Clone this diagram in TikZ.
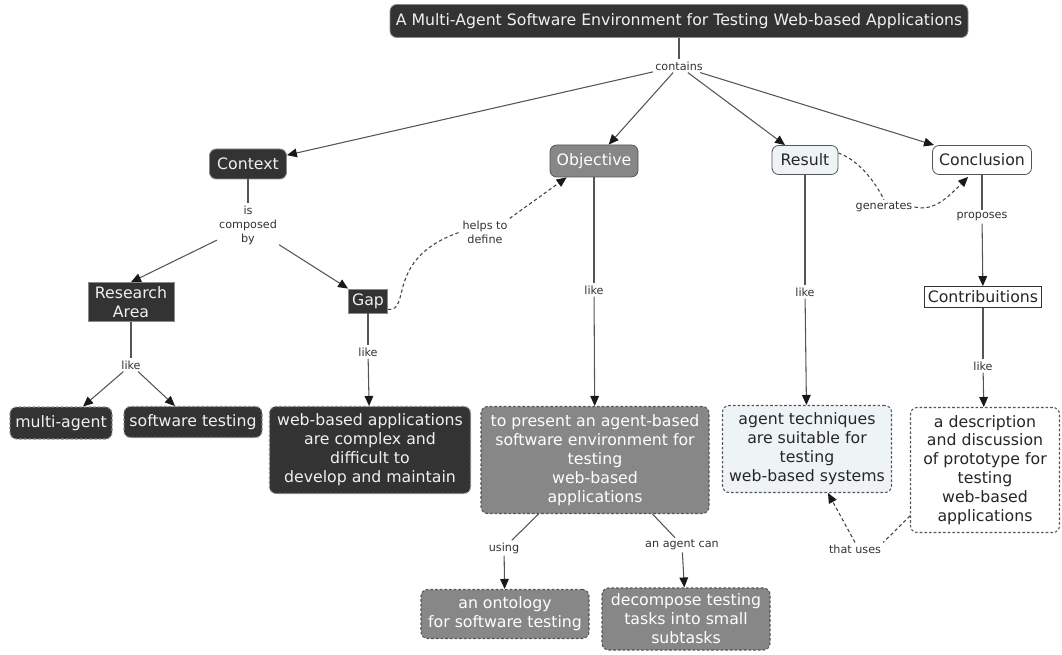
\documentclass[tikz,border=0pt]{standalone}
\usepackage{fontspec}
\setmainfont{DejaVu Sans}
\usetikzlibrary{arrows.meta,calc}
\definecolor{darkfill}{HTML}{333333}
\definecolor{greyfill}{HTML}{878787}
\definecolor{palefill}{HTML}{EEF4F6}
\definecolor{rim}{HTML}{8A8A8A}
\definecolor{linkgrey}{HTML}{555555}
\definecolor{labeltext}{HTML}{333333}
\begin{document}
\begin{tikzpicture}[x=0.75pt,y=-0.75pt,
  every node/.style={font=\fontsize{11.8}{14.2}\selectfont, align=center, inner sep=0pt},
  darkbox/.style={fill=darkfill, draw=rim, line width=0.6pt, text=white!94!black},
  greybox/.style={fill=greyfill, draw=linkgrey, line width=0.6pt, text=white},
  palebox/.style={fill=palefill, draw=linkgrey, line width=0.6pt, text=black!85},
  plainbox/.style={fill=white, draw=linkgrey, line width=0.6pt, text=black!85},
  round/.style={rounded corners=5pt},
  dotted rim/.style={dash pattern=on 2pt off 1.5pt, line width=0.8pt},
  lbl/.style={font=\fontsize{8.4}{10.5}\selectfont, text=labeltext, fill=white, inner sep=1.5pt},
  link/.style={draw=linkgrey, line width=0.8pt},
  tip/.style={-{Triangle[length=7.5pt,width=6.5pt,color=black!90]}},
  arr/.style={link, tip},
  dlink/.style={draw=black!75, line width=0.8pt, dash pattern=on 2.5pt off 2pt},
  darr/.style={dlink, tip}
]
\useasboundingbox (0,0) rectangle (1062,655);

% top concept
\node[darkbox, round, minimum width=433.5pt, minimum height=24.75pt] (title) at (679,21)
  {A Multi-Agent Software Environment for Testing Web-based Applications};
\node[lbl] (contains) at (679,66) {contains};

% first level
\node[darkbox, round, minimum width=57.75pt, minimum height=22.5pt] (context) at (248,164) {Context};
\node[greybox, round, minimum width=66pt, minimum height=24pt] (objective) at (594,161) {Objective};
\node[palebox, round, minimum width=49.5pt, minimum height=21.75pt] (result) at (805,160) {Result};
\node[plainbox, round, minimum width=74.25pt, minimum height=21.75pt] (conclusion) at (982,160) {Conclusion};

% second level
\node[lbl] (composed) at (248,225) {is\\composed\\by};
\node[darkbox, minimum width=64.5pt, minimum height=29.25pt] (research) at (131,302) {Research\\Area};
\node[darkbox, minimum width=29.25pt, minimum height=18pt] (gap) at (368,301) {Gap};
\node[lbl] (helps) at (485,232) {helps to\\define};
\node[lbl] (likeobj) at (594,290) {like};
\node[lbl] (likeres) at (805,292) {like};
\node[lbl] (generates) at (884,207) {generates};
\node[lbl] (proposes) at (982,217) {proposes};
\node[plainbox, draw=black!80, minimum width=87.75pt, minimum height=15.75pt] (contrib) at (983,297) {Contribuitions};
\node[lbl] (likera) at (131,365) {like};
\node[lbl] (likegap) at (368,352) {like};
\node[lbl] (likecon) at (983,366) {like};

% detail concepts
\node[darkbox, round, dotted rim, minimum width=76.5pt, minimum height=24pt] (multi) at (61,423) {multi-agent};
\node[darkbox, round, dotted rim, minimum width=103.5pt, minimum height=23.25pt] (swtest) at (193,422) {software testing};
\node[darkbox, round, dotted rim, minimum width=150.75pt, minimum height=65.25pt] (webapps) at (370,450)
  {web-based applications\\are complex and\\difficult to\\develop and maintain};
\node[greybox, round, dotted rim, minimum width=171pt, minimum height=80.25pt] (present) at (595,460)
  {to present an agent-based\\software environment for\\testing\\web-based\\applications};
\node[palebox, round, dotted rim, minimum width=126.75pt, minimum height=65.25pt] (agenttech) at (807,449)
  {agent techniques\\are suitable for\\testing\\web-based systems};
\node[plainbox, round, dotted rim, minimum width=111.75pt, minimum height=93.75pt] (descr) at (985,470)
  {a description\\and discussion\\of prototype for\\testing\\web-based\\applications};
\node[lbl] (using) at (504,548) {using};
\node[lbl] (agentcan) at (682,545) {an agent can};
\node[lbl] (thatuses) at (855,549) {that uses};
\node[greybox, round, dotted rim, minimum width=126pt, minimum height=36.75pt] (ontology) at (505,614)
  {an ontology\\for software testing};
\node[greybox, round, dotted rim, minimum width=126pt, minimum height=46.5pt] (decompose) at (686,619)
  {decompose testing\\tasks into small\\subtasks};

% links from the title
\draw[link] (title) -- (contains);
\draw[arr] (contains) -- (context);
\draw[arr] (contains) -- (objective);
\draw[arr] (contains) -- (result);
\draw[arr] (contains) -- (conclusion);

% context branch
\draw[link] (context) -- (composed);
\draw[arr] (composed) -- (research.north);
\draw[arr] (composed) -- (gap.north west);
\draw[link] (research) -- (likera);
\draw[arr] (likera) -- ($(multi.north)+(22,0)$);
\draw[arr] (likera) -- ($(swtest.north)+(-18,0)$);
\draw[link] (gap) -- (likegap);
\draw[arr] (likegap) -- (webapps);

% gap helps to define the objective
\draw[dlink] ($(gap.south east)+(0,-4)$) .. controls (412,312) and (384,258) .. (helps.west);
\draw[darr] (helps.north east) -- ($(objective.south west)+(17,0)$);

% objective branch
\draw[link] (objective) -- (likeobj);
\draw[arr] (likeobj) -- (present);
\draw[link] ($(present.south west)+(58,0)$) -- (using);
\draw[arr] (using) -- (ontology);
\draw[link] ($(present.south west)+(172,0)$) -- (agentcan);
\draw[arr] (agentcan) -- (decompose);

% result branch
\draw[link] (result) -- (likeres);
\draw[arr] (likeres) -- (agenttech);
\draw[dlink] ($(result.east)+(0,-7)$) .. controls (858,160) and (874,180) .. (generates.north);
\draw[darr] (generates.east) .. controls (935,212) and (950,195) .. ($(conclusion.south west)+(36,2)$);

% conclusion branch
\draw[link] (conclusion) -- (proposes);
\draw[arr] (proposes) -- (contrib);
\draw[link] (contrib) -- (likecon);
\draw[arr] (likecon) -- (descr);
\draw[dlink] ($(descr.west)+(0,46)$) -- (thatuses.north east);
\draw[darr] (thatuses.north) -- ($(agenttech.south)+(21,0)$);
\end{tikzpicture}
\end{document}
